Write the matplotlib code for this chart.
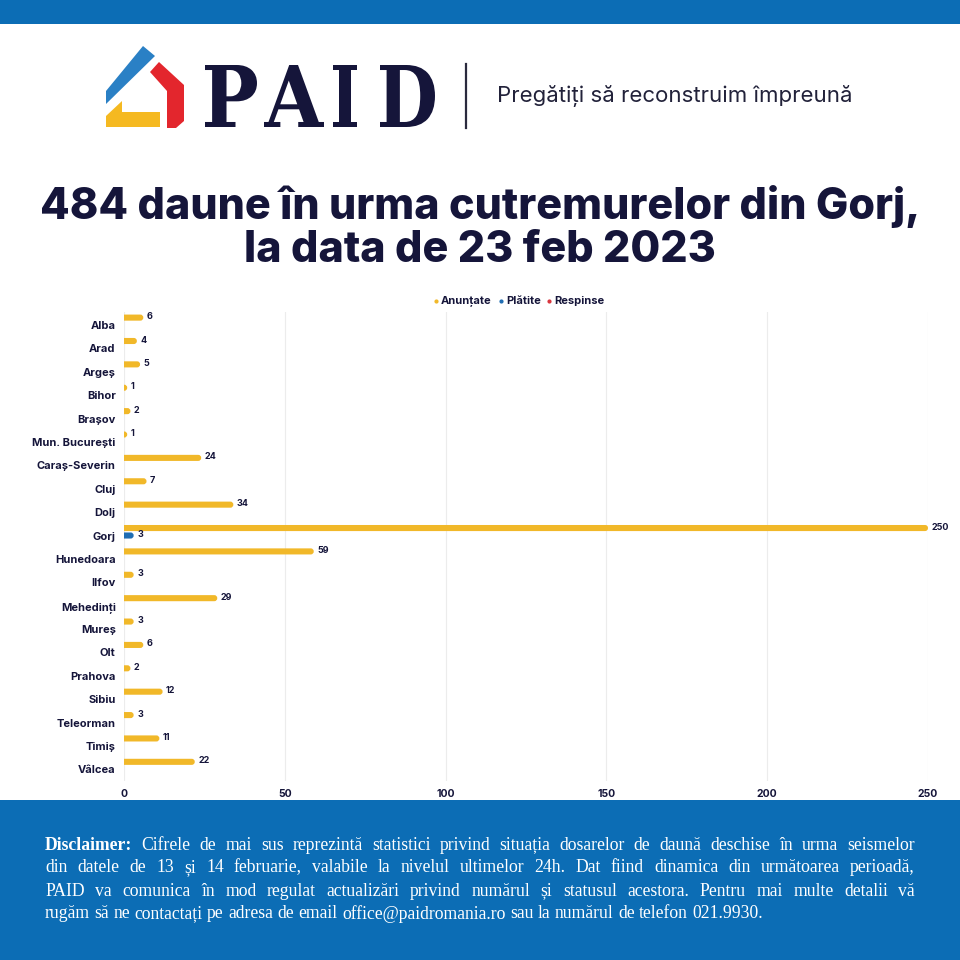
import matplotlib.pyplot as plt
import matplotlib.patches as mpatches
import matplotlib.transforms as mtransforms
from matplotlib.textpath import TextPath
from matplotlib.font_manager import FontProperties
import numpy as np

# date din grafic
judete = ['Alba', 'Arad', 'Argeș', 'Bihor', 'Brașov', 'Mun. București',
          'Caraș-Severin', 'Cluj', 'Dolj', 'Gorj', 'Hunedoara', 'Ilfov',
          'Mehedinți', 'Mureș', 'Olt', 'Prahova', 'Sibiu', 'Teleorman',
          'Timiș', 'Vâlcea']
anuntate = [6, 4, 5, 1, 2, 1, 24, 7, 34, 250, 59, 3, 29, 3, 6, 2, 12, 3, 11, 22]
platite = [0, 0, 0, 0, 0, 0, 0, 0, 0, 3, 0, 0, 0, 0, 0, 0, 0, 0, 0, 0]
respinse = [0, 0, 0, 0, 0, 0, 0, 0, 0, 0, 0, 0, 0, 0, 0, 0, 0, 0, 0, 0]
serii = ['Anunțate', 'Plătite', 'Respinse']
x_ticks = [0, 50, 100, 150, 200, 250]

NAVY = '#15153a'
YELLOW = '#f1b829'
BLUE = '#1f6db3'
RED = '#d9363e'
BAND = '#0c6db5'

plt.rcParams['font.family'] = ['Inter', 'DejaVu Sans']

fig = plt.figure(figsize=(9.6, 9.6), dpi=100)
fig.patch.set_facecolor('white')

# fundal in pixeli (y in jos)
bg = fig.add_axes([0, 0, 1, 1])
bg.set_xlim(0, 960)
bg.set_ylim(960, 0)
bg.axis('off')

bg.add_patch(mpatches.Rectangle((0, 0), 960, 24, color=BAND, lw=0))
bg.add_patch(mpatches.Rectangle((0, 800), 960, 160, color=BAND, lw=0))

# logo
bg.add_patch(mpatches.Polygon([(106, 91), (143, 46), (155, 56), (106, 104)],
                              color='#2a80c5', lw=0))
bg.add_patch(mpatches.Polygon([(150, 72), (159, 62), (184, 85), (184, 121),
                               (176, 128), (167, 128), (167, 91)],
                              color='#e3262d', lw=0))
bg.add_patch(mpatches.Polygon([(106, 127), (160, 127), (160, 112), (122, 112),
                               (122, 101), (106, 116)],
                              color='#f5b921', lw=0))
fp = FontProperties(family='DejaVu Serif', weight='bold')
for lit, xa, xb in [('P', 205, 257), ('A', 264, 324), ('I', 333, 357), ('D', 380, 435)]:
    tp = TextPath((0, 0), lit, size=100, prop=fp)
    ext = tp.get_extents()
    tr = (mtransforms.Affine2D().translate(-ext.x0, -ext.y0)
          .scale((xb - xa) / ext.width, -(127 - 65) / ext.height).translate(xa, 127))
    bg.add_patch(mpatches.PathPatch(tr.transform_path(tp), color=NAVY, lw=0))
bg.plot([466, 466], [64, 128], color='#2a2a3e', lw=1.6)
bg.text(497, 96, 'Pregătiți să reconstruim împreună', fontsize=16,
        color='#22223a', ha='left', va='center')

# titlu
bg.text(480, 206, '484 daune în urma cutremurelor din Gorj,', fontsize=31,
        fontweight=800, color=NAVY, ha='center', va='center')
bg.text(480, 250, 'la data de 23 feb 2023', fontsize=31,
        fontweight=800, color=NAVY, ha='center', va='center')

# legenda
for xd, nume, c in zip([436, 501, 549], serii, [YELLOW, BLUE, RED]):
    bg.plot(xd, 301, 'o', ms=2, color=c)
    bg.text(xd + 5, 301, nume, fontsize=8, fontweight='bold', color=NAVY,
            ha='left', va='center')

# grafic
ax = fig.add_axes([124 / 960, (960 - 781) / 960, (928 - 124) / 960, (781 - 312) / 960])
ax.set_facecolor('none')
ax.set_xlim(0, 250)
ax.set_ylim(19.5, -0.56)
y = np.arange(len(judete))
h = 0.26
off = 0.32
px_x = 250 / 804.0           # unitati x pe pixel
px_y = 20.06 / 469.0         # unitati y pe pixel
r = 3 * px_x
for vals, dy, c in [(anuntate, -off, YELLOW), (platite, 0, BLUE), (respinse, off, RED)]:
    for yi, v in zip(y, vals):
        if v <= 0:
            continue
        box = mpatches.FancyBboxPatch((-r, yi + dy - h / 2), v + r, h,
                                      boxstyle=f'round,pad=0,rounding_size={r}',
                                      mutation_aspect=px_y / px_x,
                                      color=c, lw=0, zorder=3)
        ax.add_patch(box)
        ax.annotate(str(v), (v, yi + dy - 0.04), xytext=(2.5, 0), textcoords='offset points',
                    fontsize=6.5, fontweight='bold', color=NAVY, va='center', ha='left')

ax.set_yticks(y)
ax.set_yticklabels(judete, fontsize=8, fontweight='bold', color=NAVY)
ax.set_xticks(x_ticks)
ax.set_xticklabels([str(t) for t in x_ticks], fontsize=7.5, fontweight='bold', color=NAVY)
ax.tick_params(axis='both', length=0)
ax.tick_params(axis='y', pad=6)
ax.tick_params(axis='x', pad=6)
ax.grid(axis='x', color='#ececec', lw=0.8, zorder=0)
for s in ax.spines.values():
    s.set_visible(False)

# disclaimer, aliniat stanga-dreapta
renderer = fig.canvas.get_renderer()
serif = ['Liberation Serif', 'DejaVu Serif']
fs = 12.7
linii = [
    [('Disclaimer:', 'bold')] + [(w, 'normal') for w in
     'Cifrele de mai sus reprezintă statistici privind situația dosarelor de daună deschise în urma seismelor'.split()],
    [(w, 'normal') for w in
     'din datele de 13 și 14 februarie, valabile la nivelul ultimelor 24h. Dat fiind dinamica din următoarea perioadă,'.split()],
    [(w, 'normal') for w in
     'PAID va comunica în mod regulat actualizări privind numărul și statusul acestora. Pentru mai multe detalii vă'.split()],
    [(w, 'normal') for w in
     'rugăm să ne contactați pe adresa de email office@paidromania.ro sau la numărul de telefon 021.9930.'.split()],
]
x0, x1 = 45, 915
for i, cuv in enumerate(linii):
    yl = 845 + i * 23
    txts = [bg.text(0, yl, w, fontsize=fs, fontweight=wt, family=serif, color='white',
                    ha='left', va='center') for w, wt in cuv]
    widths = [t.get_window_extent(renderer).width for t in txts]
    if i < len(linii) - 1:
        gap = (x1 - x0 - sum(widths)) / (len(txts) - 1)
    else:
        gap = 0.25 * fs * 100 / 72
    xc = x0
    for t, wd in zip(txts, widths):
        t.set_x(xc)
        xc += wd + gap

fig.savefig('out.png', dpi=100)
